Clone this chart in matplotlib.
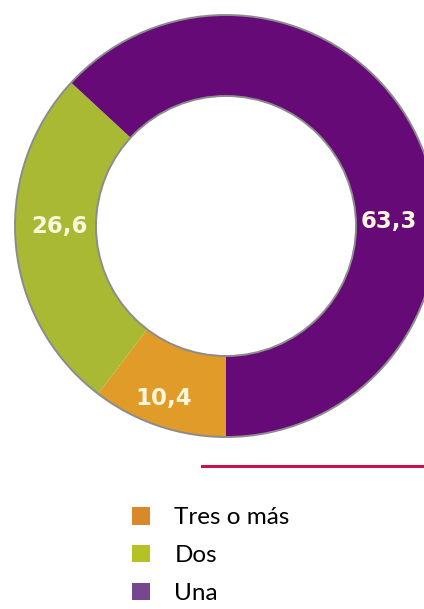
import matplotlib
matplotlib.use("Agg")
import matplotlib.pyplot as plt
from matplotlib.patches import Patch, Circle
import numpy as np

# -------- DATA --------
categories = ["Tres o más", "Dos", "Una"]
values = [10.4, 26.6, 63.3]
value_labels = ["10,4", "26,6", "63,3"]
ring_colors = ["#e09b28", "#a9b934", "#650a77"]
legend_colors = ["#d88a2a", "#b5c226", "#76468f"]
# ----------------------

W, H, DPI = 424, 609, 100
CX, CY, R_OUT, R_IN = 226, 226, 211, 130

fig = plt.figure(figsize=(W / DPI, H / DPI), dpi=DPI)
fig.patch.set_facecolor("white")

ax = fig.add_axes([(CX - R_OUT) / W, (H - CY - R_OUT) / H, 2 * R_OUT / W, 2 * R_OUT / H])
wedges, _ = ax.pie(values, colors=ring_colors, startangle=270, counterclock=False,
                   radius=1.0, wedgeprops=dict(width=1 - R_IN / R_OUT, linewidth=0))
ax.set_xlim(-1, 1)
ax.set_ylim(-1, 1)
ax.set_aspect("auto")
ax.axis("off")
for w in wedges:
    w.set_clip_on(False)

# grey outlines of the ring
for r in (1.0, R_IN / R_OUT):
    ax.add_patch(Circle((0, 0), r, fill=False, edgecolor="#8c8c8c", linewidth=1.4, clip_on=False))

# value labels (placed around the ring)
label_pos = {"10,4": (250, 0.87), "26,6": (180, 0.79), "63,3": (1.5, 0.77)}
for lab in value_labels:
    ang, r = label_pos[lab]
    a = np.deg2rad(ang)
    ax.text(r * np.cos(a), r * np.sin(a), lab, ha="center", va="center",
            fontsize=16.5, fontweight="bold", color="#fbf6dc", family="DejaVu Sans")

# red rule
fig.add_artist(plt.Line2D([202 / W, 1.0], [1 - 466 / H, 1 - 466 / H],
                          color="#c8124c", linewidth=2.2))

# legend
handles = [Patch(facecolor=c, edgecolor="none") for c in legend_colors]
fig.legend(handles, categories, loc="upper left",
           bbox_to_anchor=(132 / W, 1 - 507 / H), frameon=False,
           prop={"family": "Lato", "size": 17.5}, handlelength=0.74, handleheight=0.74,
           handletextpad=1.0, labelspacing=0.68, borderpad=0, borderaxespad=0)

plt.savefig("out.png", dpi=DPI)
